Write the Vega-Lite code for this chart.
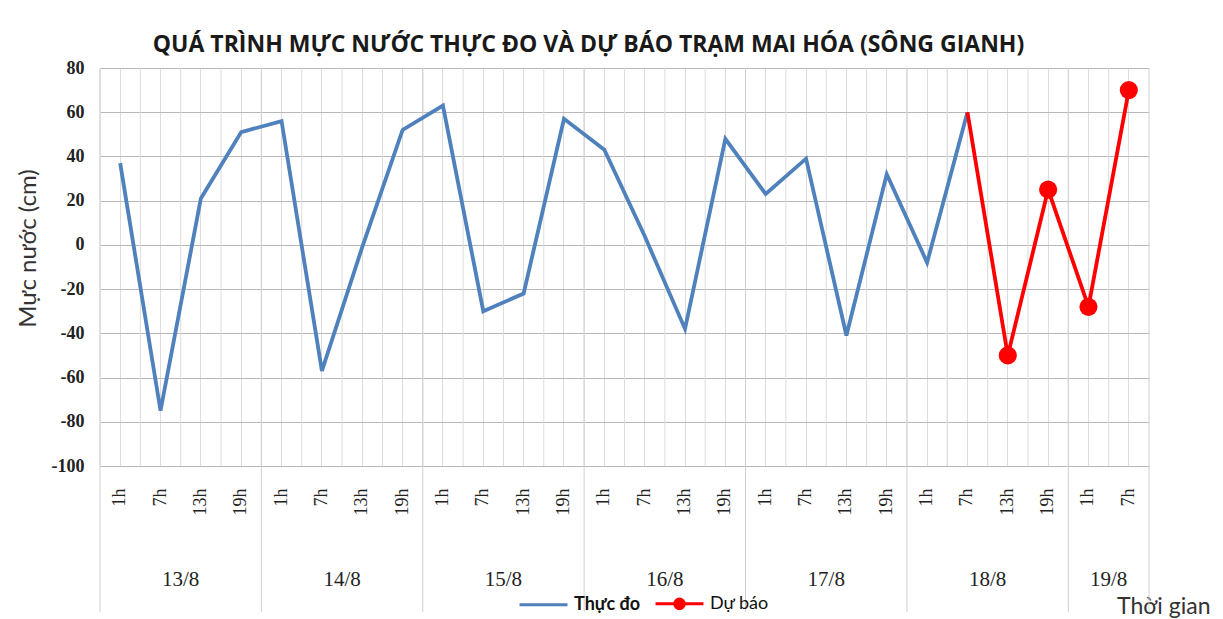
{
  "$schema": "https://vega.github.io/schema/vega-lite/v6.json",
  "width": 1049,
  "height": 398,
  "autosize": "none",
  "padding": {"left": 100, "top": 68, "right": 74, "bottom": 153},
  "background": "white",
  "config": {"view": {"stroke": null}},
  "title": {
    "text": "QUÁ TRÌNH MỰC NƯỚC THỰC ĐO VÀ DỰ BÁO TRẠM MAI HÓA (SÔNG GIANH)",
    "font": "Open Sans",
    "fontSize": 23,
    "fontWeight": "bold",
    "color": "#1a1a1a",
    "anchor": "middle",
    "dx": -36,
    "offset": 2
  },
  "datasets": {
    "obs": [
      {"t": "13/8 1h", "series": "Thực đo", "value": 37},
      {"t": "13/8 7h", "series": "Thực đo", "value": -75},
      {"t": "13/8 13h", "series": "Thực đo", "value": 21},
      {"t": "13/8 19h", "series": "Thực đo", "value": 51},
      {"t": "14/8 1h", "series": "Thực đo", "value": 56},
      {"t": "14/8 7h", "series": "Thực đo", "value": -57},
      {"t": "14/8 13h", "series": "Thực đo", "value": -1},
      {"t": "14/8 19h", "series": "Thực đo", "value": 52},
      {"t": "15/8 1h", "series": "Thực đo", "value": 63},
      {"t": "15/8 7h", "series": "Thực đo", "value": -30},
      {"t": "15/8 13h", "series": "Thực đo", "value": -22},
      {"t": "15/8 19h", "series": "Thực đo", "value": 57},
      {"t": "16/8 1h", "series": "Thực đo", "value": 43},
      {"t": "16/8 7h", "series": "Thực đo", "value": 4},
      {"t": "16/8 13h", "series": "Thực đo", "value": -38},
      {"t": "16/8 19h", "series": "Thực đo", "value": 48},
      {"t": "17/8 1h", "series": "Thực đo", "value": 23},
      {"t": "17/8 7h", "series": "Thực đo", "value": 39},
      {"t": "17/8 13h", "series": "Thực đo", "value": -41},
      {"t": "17/8 19h", "series": "Thực đo", "value": 32},
      {"t": "18/8 1h", "series": "Thực đo", "value": -8},
      {"t": "18/8 7h", "series": "Thực đo", "value": 60},
      {"t": "18/8 7h", "series": "Dự báo", "value": 60, "marker": false},
      {"t": "18/8 13h", "series": "Dự báo", "value": -50, "marker": true},
      {"t": "18/8 19h", "series": "Dự báo", "value": 25, "marker": true},
      {"t": "19/8 1h", "series": "Dự báo", "value": -28, "marker": true},
      {"t": "19/8 7h", "series": "Dự báo", "value": 70, "marker": true}
    ],
    "days": [
      {"day": "13/8", "start": "13/8 1h", "mid": "13/8 13h"},
      {"day": "14/8", "start": "14/8 1h", "mid": "14/8 13h"},
      {"day": "15/8", "start": "15/8 1h", "mid": "15/8 13h"},
      {"day": "16/8", "start": "16/8 1h", "mid": "16/8 13h"},
      {"day": "17/8", "start": "17/8 1h", "mid": "17/8 13h"},
      {"day": "18/8", "start": "18/8 1h", "mid": "18/8 13h"},
      {"day": "19/8", "start": "19/8 1h", "mid": "19/8 7h"}
    ]
  },
  "encoding": {
    "x": {
      "field": "t",
      "type": "nominal",
      "scale": {
        "type": "band",
        "paddingInner": 0,
        "paddingOuter": 0,
        "domain": ["13/8 1h","13/8 7h","13/8 13h","13/8 19h","14/8 1h","14/8 7h","14/8 13h","14/8 19h","15/8 1h","15/8 7h","15/8 13h","15/8 19h","16/8 1h","16/8 7h","16/8 13h","16/8 19h","17/8 1h","17/8 7h","17/8 13h","17/8 19h","18/8 1h","18/8 7h","18/8 13h","18/8 19h","19/8 1h","19/8 7h"]
      }
    }
  },
  "layer": [
    {
      "data": {"name": "obs"},
      "mark": {"type": "rule", "color": "#dcdcdc", "strokeWidth": 1},
      "encoding": {
        "x": {"field": "t", "type": "nominal", "bandPosition": 0},
        "y": {"datum": 80, "type": "quantitative"},
        "y2": {"datum": -100}
      }
    },
    {
      "data": {"name": "days"},
      "mark": {"type": "rule", "color": "#d0d0d0", "strokeWidth": 1, "y2Offset": 146},
      "encoding": {
        "x": {"field": "start", "type": "nominal", "bandPosition": 0},
        "y": {"datum": 80, "type": "quantitative"},
        "y2": {"datum": -100}
      }
    },
    {
      "data": {"name": "days"},
      "transform": [{"filter": "datum.day == '19/8'"}],
      "mark": {"type": "rule", "color": "#d0d0d0", "strokeWidth": 1, "y2Offset": 146},
      "encoding": {
        "x": {"datum": "19/8 7h", "type": "nominal", "bandPosition": 1},
        "y": {"datum": 80, "type": "quantitative"},
        "y2": {"datum": -100}
      }
    },
    {
      "data": {"name": "days"},
      "mark": {"type": "text", "font": "Liberation Serif", "fontSize": 21, "color": "#222222", "dy": 114, "baseline": "middle", "align": "center"},
      "encoding": {
        "x": {"field": "mid", "type": "nominal", "bandPosition": 0},
        "y": {"datum": -100, "type": "quantitative"},
        "text": {"field": "day"}
      }
    },
    {
      "data": {"name": "obs"},
      "mark": {"type": "line", "strokeWidth": 3.8, "strokeJoin": "miter"},
      "encoding": {
        "x": {
          "field": "t",
          "type": "nominal",
          "axis": {
            "labelExpr": "split(datum.label, ' ')[1]",
            "labelAngle": -90,
            "labelAlign": "right",
            "labelBaseline": "middle",
            "labelFont": "Liberation Serif",
            "labelFontSize": 18,
            "labelColor": "#222222",
            "labelPadding": 22,
            "ticks": false,
            "domain": false,
            "grid": true,
            "gridColor": "#dcdcdc",
            "gridWidth": 1,
            "title": "Thời gian",
            "titleFont": "Lato",
            "titleFontSize": 23,
            "titleFontWeight": "normal",
            "titleColor": "#333333",
            "titleAnchor": null,
            "titleAlign": "right",
            "titleBaseline": "middle",
            "titleX": 1110,
            "titleY": 140
          }
        },
        "y": {
          "field": "value",
          "type": "quantitative",
          "scale": {"domain": [-100, 80], "nice": false, "zero": false},
          "axis": {
            "values": [-100, -80, -60, -40, -20, 0, 20, 40, 60, 80],
            "labelExpr": "replace(datum.label, '−', '-')",
            "labelFont": "Liberation Serif",
            "labelFontSize": 18,
            "labelFontWeight": "bold",
            "labelColor": "#222222",
            "labelPadding": 16,
            "ticks": false,
            "domain": false,
            "grid": true,
            "gridColor": "#b8b8b8",
            "gridWidth": 1,
            "title": "Mực nước (cm)",
            "titleFont": "Lato",
            "titleFontSize": 24,
            "titleFontWeight": "normal",
            "titleColor": "#333333",
            "titleAnchor": null,
            "titleAngle": -90,
            "titleAlign": "center",
            "titleBaseline": "middle",
            "titleX": -72,
            "titleY": 180
          }
        },
        "color": {
          "field": "series",
          "type": "nominal",
          "scale": {"domain": ["Thực đo", "Dự báo"], "range": ["#4F81BD", "#FF0000"]},
          "legend": {
            "title": null,
            "orient": "none",
            "direction": "horizontal",
            "legendX": 418,
            "legendY": 510,
            "labelFont": "Lato",
            "labelFontSize": 18,
            "labelColor": "#111111",
            "symbolSize": 2300,
            "symbolStrokeWidth": 3,
            "columnPadding": 8,
            "labelOffset": 5,
            "padding": 0,
            "encode": {
              "symbols": {
                "update": {
                  "shape": {"signal": "datum.value == 'Dự báo' ? 'M-1,0L1,0M-0.2,0A0.2,0.2,0,1,0,0.2,0A0.2,0.2,0,1,0,-0.2,0' : 'M-1,0L1,0'"},
                  "fill": {"signal": "datum.value == 'Dự báo' ? '#FF0000' : 'transparent'"}
                }
              },
              "labels": {
                "update": {
                  "fontWeight": {"signal": "datum.value == 'Thực đo' ? 'bold' : 'normal'"}
                }
              }
            }
          }
        }
      }
    },
    {
      "data": {"name": "obs"},
      "transform": [{"filter": "datum.marker == true"}],
      "mark": {"type": "point", "filled": true, "size": 330, "color": "#FF0000", "opacity": 1},
      "encoding": {
        "x": {"field": "t", "type": "nominal"},
        "y": {"field": "value", "type": "quantitative"}
      }
    }
  ]
}
